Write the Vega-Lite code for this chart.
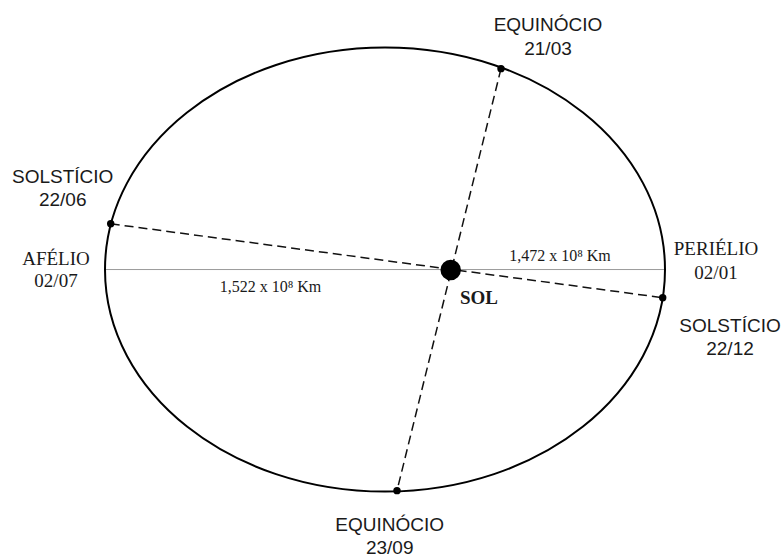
{
  "$schema": "https://vega.github.io/schema/vega-lite/v6.json",
  "width": 784,
  "height": 558,
  "padding": 0,
  "autosize": {"type": "fit", "contains": "padding"},
  "background": "white",
  "config": {"view": {"stroke": null}},
  "datasets": {
    "orbit": [{"x": 0, "y": 0, "name": "órbita"}],
    "axis": [{"x": -280, "x2": 280, "y": 0}],
    "diam": [
      {"x": -274.3, "y": 46, "x2": 277.7, "y2": -28.3, "name": "solstícios"},
      {"x": 116, "y": 202, "x2": 12, "y2": -222.3, "name": "equinócios"}
    ],
    "events": [
      {"x": 116, "y": 202, "name": "Equinócio 21/03"},
      {"x": 12, "y": -222.3, "name": "Equinócio 23/09"},
      {"x": -274.3, "y": 46, "name": "Solstício 22/06"},
      {"x": 277.7, "y": -28.3, "name": "Solstício 22/12"}
    ],
    "sun": [{"x": 65.7, "y": -0.5, "name": "Sol"}],
    "sans": [
      {"x": 163, "y": 245.7, "t": "EQUINÓCIO"},
      {"x": 163, "y": 222, "t": "21/03"},
      {"x": -322.3, "y": 93.5, "t": "SOLSTÍCIO"},
      {"x": -322.3, "y": 70, "t": "22/06"},
      {"x": 345, "y": -56.5, "t": "SOLSTÍCIO"},
      {"x": 345, "y": -80, "t": "22/12"},
      {"x": 4.7, "y": -256.5, "t": "EQUINÓCIO"},
      {"x": 4.7, "y": -280, "t": "23/09"}
    ],
    "serif": [
      {"x": -329, "y": 11, "t": "AFÉLIO"},
      {"x": -329, "y": -11.5, "t": "02/07"},
      {"x": 331, "y": 21, "t": "PERIÉLIO"},
      {"x": 331, "y": -3, "t": "02/01"}
    ],
    "bold": [{"x": 94, "y": -28.5, "t": "SOL"}],
    "dist": [
      {"x": 175, "y": 13.5, "t": "1,472 x 10⁸ Km"},
      {"x": -114.5, "y": -18, "t": "1,522 x 10⁸ Km"}
    ]
  },
  "encoding": {
    "x": {"field": "x", "type": "quantitative", "scale": {"domain": [-385, 399], "nice": false, "zero": false}, "axis": null},
    "y": {"field": "y", "type": "quantitative", "scale": {"domain": [-287, 271], "nice": false, "zero": false}, "axis": null}
  },
  "layer": [
    {
      "data": {"name": "axis"},
      "mark": {"type": "rule", "color": "#9a9a9a", "strokeWidth": 1},
      "encoding": {"x2": {"field": "x2"}}
    },
    {
      "data": {"name": "diam"},
      "mark": {"type": "rule", "color": "#111", "strokeWidth": 1.5, "strokeDash": [9, 5]},
      "encoding": {"x2": {"field": "x2"}, "y2": {"field": "y2"}}
    },
    {
      "data": {"name": "orbit"},
      "mark": {
        "type": "point",
        "shape": "M -1 0 A 1 0.7929 0 1 0 1 0 A 1 0.7929 0 1 0 -1 0 Z",
        "size": 313600,
        "filled": false,
        "stroke": "#000",
        "strokeWidth": 2,
        "opacity": 1
      }
    },
    {
      "data": {"name": "events"},
      "mark": {"type": "circle", "size": 55, "color": "#000", "opacity": 1}
    },
    {
      "data": {"name": "sun"},
      "mark": {"type": "circle", "size": 420, "color": "#000", "opacity": 1}
    },
    {
      "data": {"name": "sans"},
      "mark": {"type": "text", "font": "Liberation Sans", "fontSize": 19, "color": "#1a1a1a", "align": "center", "baseline": "middle"},
      "encoding": {"text": {"field": "t"}}
    },
    {
      "data": {"name": "serif"},
      "mark": {"type": "text", "font": "Liberation Serif", "fontSize": 19, "color": "#1a1a1a", "align": "center", "baseline": "middle"},
      "encoding": {"text": {"field": "t"}}
    },
    {
      "data": {"name": "bold"},
      "mark": {"type": "text", "font": "Liberation Serif", "fontSize": 19, "fontWeight": "bold", "color": "#1a1a1a", "align": "center", "baseline": "middle"},
      "encoding": {"text": {"field": "t"}}
    },
    {
      "data": {"name": "dist"},
      "mark": {"type": "text", "font": "Liberation Serif", "fontSize": 16, "color": "#1a1a1a", "align": "center", "baseline": "middle"},
      "encoding": {"text": {"field": "t"}}
    }
  ]
}
